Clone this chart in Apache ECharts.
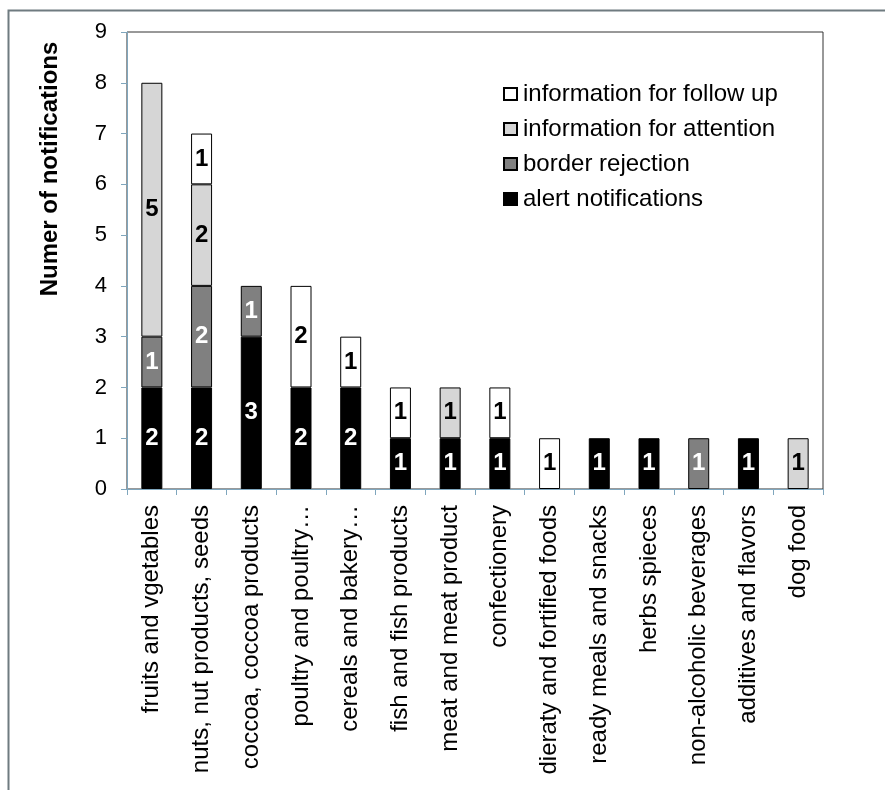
<!DOCTYPE html>
<html>
<head>
<meta charset="utf-8">
<script src="https://cdn.jsdelivr.net/npm/echarts@6/dist/echarts.min.js"></script>
<style>
  html, body { margin: 0; padding: 0; background: #ffffff; }
  #chart { width: 885px; height: 790px; }
</style>
</head>
<body>
<div id="chart"></div>
<script>
// Food categories on the x axis
const categories = [
  'fruits and vgetables',
  'nuts, nut products, seeds',
  'coccoa, coccoa products',
  'poultry and poultry…',
  'cereals and bakery…',
  'fish and fish products',
  'meat and meat product',
  'confectionery',
  'dieraty and fortified foods',
  'ready meals and snacks',
  'herbs spieces',
  'non-alcoholic beverages',
  'additives and flavors',
  'dog food'
];

// Notification counts per category, one array per notification type
const alertNotifications     = [2, 2, 3, 2, 2, 1, 1, 1, 0, 1, 1, 0, 1, 0];
const borderRejection        = [1, 2, 1, 0, 0, 0, 0, 0, 0, 0, 0, 1, 0, 0];
const informationAttention   = [5, 2, 0, 0, 0, 0, 1, 0, 0, 0, 0, 0, 0, 1];
const informationFollowUp    = [0, 1, 0, 2, 1, 1, 0, 1, 1, 0, 0, 0, 0, 0];

const yTicks = [0, 1, 2, 3, 4, 5, 6, 7, 8, 9];

const FONT = "'Liberation Sans', Arial, sans-serif";

// Empty segments are left out so they draw no outline and no label
const toSeries = arr => arr.map(v => (v === 0 ? '-' : v));

function stackSeries(name, values, fill, labelColor) {
  return {
    name: name,
    type: 'bar',
    stack: 'total',
    barWidth: 21,
    data: toSeries(values),
    itemStyle: { color: fill, borderColor: '#000000', borderWidth: 1 },
    label: {
      show: true,
      position: 'inside',
      color: labelColor,
      fontFamily: FONT,
      fontWeight: 'bold',
      fontSize: 24
    },
    emphasis: { disabled: true }
  };
}

const chart = echarts.init(document.getElementById('chart'), null, { renderer: 'canvas' });

chart.setOption({
  animation: false,
  backgroundColor: '#ffffff',
  textStyle: { fontFamily: FONT },
  graphic: [
    {
      type: 'rect',
      shape: { x: 8.5, y: 10.5, width: 900, height: 800 },
      style: { fill: 'none', stroke: '#6f7b80', lineWidth: 2 },
      silent: true
    },
    {
      type: 'text',
      x: 50,
      y: 169,
      rotation: Math.PI / 2,
      style: {
        text: 'Numer of notifications',
        font: "bold 24px 'Liberation Sans', Arial, sans-serif",
        fill: '#000000',
        align: 'center',
        verticalAlign: 'middle'
      },
      silent: true
    }
  ],
  legend: {
    orient: 'vertical',
    left: 503,
    top: 82,
    itemWidth: 13,
    itemHeight: 12,
    itemGap: 11,
    backgroundColor: '#ffffff',
    padding: 0,
    data: ['information for follow up', 'information for attention', 'border rejection', 'alert notifications'],
    textStyle: { fontFamily: FONT, fontSize: 24, color: '#000000', padding: [0, 0, 0, 1] },
    icon: 'rect'
  },
  grid: {
    left: 127,
    top: 32,
    right: 62,
    bottom: 301,
    show: true,
    borderColor: '#333333',
    borderWidth: 1,
    backgroundColor: 'transparent'
  },
  xAxis: {
    type: 'category',
    data: categories,
    axisLine: { show: true, lineStyle: { color: '#7fa6bd', width: 1 } },
    axisTick: { show: true, length: 6, lineStyle: { color: '#7fa6bd' } },
    axisLabel: {
      interval: 0,
      rotate: 90,
      margin: 16,
      color: '#000000',
      fontFamily: FONT,
      fontSize: 24
    },
    splitLine: { show: false }
  },
  yAxis: {
    type: 'value',
    min: yTicks[0],
    max: yTicks[yTicks.length - 1],
    interval: 1,
    axisLine: { show: true, lineStyle: { color: '#7fa6bd', width: 1 } },
    axisTick: { show: true, length: 6, lineStyle: { color: '#7fa6bd' } },
    axisLabel: {
      margin: 20,
      color: '#000000',
      fontFamily: FONT,
      fontSize: 22
    },
    splitLine: { show: false }
  },
  series: [
    stackSeries('alert notifications', alertNotifications, '#000000', '#ffffff'),
    stackSeries('border rejection', borderRejection, '#808080', '#ffffff'),
    stackSeries('information for attention', informationAttention, '#d6d6d6', '#000000'),
    stackSeries('information for follow up', informationFollowUp, '#ffffff', '#000000')
  ]
});
</script>
</body>
</html>
